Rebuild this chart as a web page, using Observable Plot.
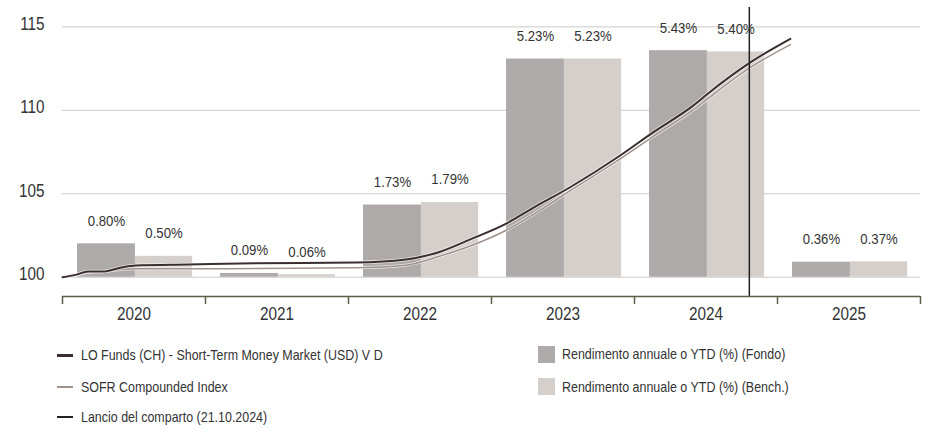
<!DOCTYPE html>
<html>
<head>
<meta charset="utf-8">
<script src="https://cdn.jsdelivr.net/npm/d3@7"></script>
<script src="https://cdn.jsdelivr.net/npm/@observablehq/plot@0.6"></script>
<style>
  html, body { margin: 0; padding: 0; background: #fff; }
  #wrap { position: relative; width: 928px; height: 434px; font-family: "Liberation Sans", Arial, sans-serif; color: #333; }
  #chart svg { display: block; }
  .lg { position: absolute; font-size: 15px; line-height: 18px; white-space: nowrap; }
  .lg span { display: inline-block; transform: scaleX(0.83); transform-origin: 0 50%; }
  .sw { position: absolute; }
</style>
</head>
<body>
<div id="wrap">
  <div id="chart"></div>
  <div id="legend"></div>
</div>
<script>
// ---- data ----
const years = [2020, 2021, 2022, 2023, 2024, 2025];
const fondoReturns = [0.80, 0.09, 1.73, 5.23, 5.43, 0.36];
const benchReturns = [0.50, 0.06, 1.79, 5.23, 5.40, 0.37];

const lineTime  = [2020.00, 2020.09, 2020.18, 2020.28, 2020.42, 2020.51, 2020.88, 2021.35, 2022.05, 2022.40, 2022.63, 2022.86, 2023.10, 2023.30, 2023.55, 2023.90, 2024.13, 2024.41, 2024.51, 2024.81, 2025.09];
const fondoLine = [100.00, 100.14, 100.34, 100.34, 100.60, 100.70, 100.76, 100.83, 100.88, 101.06, 101.50, 102.30, 103.20, 104.20, 105.39, 107.29, 108.68, 110.28, 110.98, 112.87, 114.28];
const benchLine = [100.00, 100.12, 100.30, 100.34, 100.48, 100.50, 100.50, 100.52, 100.56, 100.72, 101.24, 101.90, 102.80, 103.80, 105.19, 107.09, 108.43, 110.02, 110.68, 112.57, 113.94];

const yTicks = [100, 105, 110, 115];
const launchDate = 2024.803; // 21.10.2024

const seriesNames = {
  fondo: "LO Funds (CH) - Short-Term Money Market (USD) V D",
  bench: "SOFR Compounded Index",
  launch: "Lancio del comparto (21.10.2024)",
  barFondo: "Rendimento annuale o YTD (%) (Fondo)",
  barBench: "Rendimento annuale o YTD (%) (Bench.)"
};

// ---- styles ----
const C = {
  fondoLine: "#3a2e2f",
  benchLine: "#a0938d",
  barFondo: "#aeaaa9",
  barBench: "#d4cfcb",
  grid: "#cacaca",
  axis: "#5e5e4a",
  text: "#333333"
};
const FONT = '"Liberation Sans", Arial, sans-serif';
const NARROW = 0.85;

const yDomain = [98.844, 116.16];
const barScale = 2.5; // bar axis: 1% = 2.5 index points

const bars = [];
years.forEach((yr, i) => {
  bars.push({x1: yr + 0.105, x2: yr + 0.51, v: fondoReturns[i], fill: C.barFondo});
  bars.push({x1: yr + 0.51, x2: yr + 0.91, v: benchReturns[i], fill: C.barBench});
});
bars.forEach(b => { b.y2 = 100 + b.v * barScale; b.xc = (b.x1 + b.x2) / 2; });

const fondoData = lineTime.map((t, i) => ({t, v: fondoLine[i]}));
const benchData = lineTime.map((t, i) => ({t, v: benchLine[i]}));

const chart = Plot.plot({
  width: 928,
  height: 332,
  marginLeft: 62,
  marginRight: 8,
  marginTop: 7,
  marginBottom: 36,
  x: {domain: [2020, 2026], axis: null},
  y: {domain: yDomain, axis: null},
  style: {fontFamily: FONT, color: C.text, background: "#fff", overflow: "visible"},
  marks: [
    Plot.ruleY(yTicks, {x1: 2020, x2: 2026, stroke: C.grid, strokeWidth: 1}),
    Plot.axisY({ticks: yTicks, tickSize: 0, tickPadding: 18, fontSize: 18, dy: -3, label: null, fill: C.text}),
    Plot.rect(bars, {x1: "x1", x2: "x2", y1: 100, y2: "y2", fill: "fill"}),
    Plot.line(benchData, {x: "t", y: "v", stroke: "#fff", strokeWidth: 3, curve: "monotone-x", strokeOpacity: 0.7}),
    Plot.line(benchData, {x: "t", y: "v", stroke: C.benchLine, strokeWidth: 1.5, curve: "monotone-x"}),
    Plot.line(fondoData, {x: "t", y: "v", stroke: "#fff", strokeWidth: 3.5, curve: "monotone-x", strokeOpacity: 0.7}),
    Plot.line(fondoData, {x: "t", y: "v", stroke: C.fondoLine, strokeWidth: 2, curve: "monotone-x"}),
    Plot.ruleX([launchDate], {y1: yDomain[0], y2: yDomain[1], stroke: "#222", strokeWidth: 1.5}),
    Plot.ruleY([yDomain[0]], {x1: 2020, x2: 2026, stroke: C.axis, strokeWidth: 1.5}),
    Plot.axisX({ticks: [...years, 2026], tickSize: 8, tickFormat: () => "", stroke: C.axis, strokeWidth: 1.5}),
    Plot.axisX({ticks: years.map(y => y + 0.5), tickSize: 0, tickPadding: 11, tickFormat: d => String(Math.floor(d)), fontSize: 18, fill: C.text}),
    Plot.text(bars, {x: "xc", y: "y2", dy: -23, text: d => d.v.toFixed(2) + "%", fontSize: 15.5, fill: C.text})
  ]
});
// condense text horizontally (reference uses a narrow typeface)
chart.querySelectorAll("text").forEach(t => {
  const tr = t.getAttribute("transform") || "";
  t.setAttribute("transform", tr + ` scale(${NARROW},1)`);
});
document.getElementById("chart").appendChild(chart);

// ---- legend ----
const legend = document.getElementById("legend");
function addText(label, left, cy) {
  const tx = document.createElement("div");
  tx.className = "lg";
  tx.style.cssText = `left:${left}px;top:${cy - 9}px`;
  const s = document.createElement("span");
  s.textContent = label;
  tx.appendChild(s);
  legend.appendChild(tx);
}
const lineItems = [
  {label: seriesNames.fondo, color: C.fondoLine, w: 3, y: 355},
  {label: seriesNames.bench, color: C.benchLine, w: 2, y: 387},
  {label: seriesNames.launch, color: "#222", w: 1.5, y: 417}
];
lineItems.forEach(it => {
  const sw = document.createElement("div");
  sw.className = "sw";
  sw.style.cssText = `left:57px;top:${it.y - it.w / 2}px;width:16px;height:${it.w}px;background:${it.color}`;
  legend.appendChild(sw);
  addText(it.label, 81, it.y);
});
const boxItems = [
  {label: seriesNames.barFondo, color: C.barFondo, y: 354},
  {label: seriesNames.barBench, color: C.barBench, y: 386.5}
];
boxItems.forEach(it => {
  const sw = document.createElement("div");
  sw.className = "sw";
  sw.style.cssText = `left:538px;top:${it.y - 8.5}px;width:17px;height:17px;background:${it.color}`;
  legend.appendChild(sw);
  addText(it.label, 562, it.y);
});
</script>
</body>
</html>
